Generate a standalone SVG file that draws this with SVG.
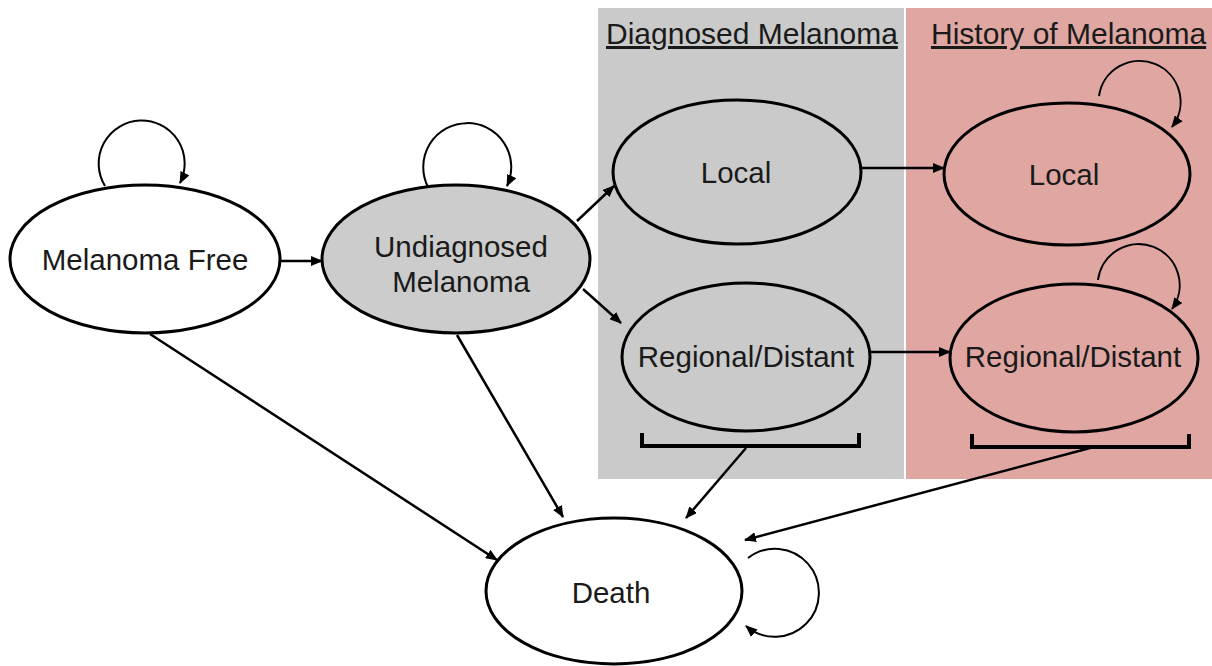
<svg xmlns="http://www.w3.org/2000/svg" width="1212" height="666" viewBox="0 0 1212 666">
<defs>
<style>
.node{stroke:#000;stroke-width:3}
.lbl{font-family:"Liberation Sans",Arial,sans-serif;font-size:29.5px;fill:#1a1a1a;text-anchor:middle}
.hdr{font-family:"Liberation Sans",Arial,sans-serif;font-size:30px;fill:#1a1a1a;text-decoration:underline}
.arr{stroke:#000;stroke-width:2.5;fill:none;marker-end:url(#ah)}
.loop{stroke:#000;stroke-width:2;fill:none;marker-end:url(#ah)}
.brk{stroke:#000;stroke-width:4;fill:none}
</style>
<marker id="ah" viewBox="0 0 12 10" refX="11" refY="5" markerWidth="12" markerHeight="10" markerUnits="userSpaceOnUse" orient="auto">
<path d="M0,0 L12,5 L0,10 z" fill="#000"/>
</marker>
</defs>
<rect width="1212" height="666" fill="#fff"/>
<g id="panel-diagnosed">
<rect x="598" y="8" width="306" height="471" fill="#cacaca"/>
<text class="hdr" x="606" y="44">Diagnosed Melanoma</text>
</g>
<g id="panel-history">
<rect x="906" y="8" width="306" height="471" fill="#e0a7a2"/>
<text class="hdr" x="931" y="44">History of Melanoma</text>
</g>
<g id="melanoma-free">
<ellipse class="node" cx="145" cy="259" rx="135" ry="74" fill="#fff"/>
<text class="lbl" x="145" y="270">Melanoma Free</text>
</g>
<g id="undiagnosed">
<ellipse class="node" cx="456" cy="259" rx="134" ry="74" fill="#cccccc"/>
<text class="lbl" x="461" y="257">Undiagnosed</text>
<text class="lbl" x="461" y="292">Melanoma</text>
</g>
<g id="diag-local">
<ellipse class="node" cx="737" cy="172" rx="124" ry="72" fill="#cacaca"/>
<text class="lbl" x="736" y="183">Local</text>
</g>
<g id="diag-regional">
<ellipse class="node" cx="746" cy="357" rx="124" ry="74" fill="#cacaca"/>
<text class="lbl" x="746" y="367">Regional/Distant</text>
</g>
<g id="hist-local">
<ellipse class="node" cx="1067" cy="174" rx="123" ry="71" fill="#e0a7a2"/>
<text class="lbl" x="1064" y="185">Local</text>
</g>
<g id="hist-regional">
<ellipse class="node" cx="1074" cy="358" rx="124" ry="74" fill="#e0a7a2"/>
<text class="lbl" x="1073" y="367">Regional/Distant</text>
</g>
<g id="death">
<ellipse class="node" cx="614" cy="591" rx="128" ry="73" fill="#fff"/>
<text class="lbl" x="611" y="603">Death</text>
</g>
<g id="connectors">
<path class="loop" d="M105,186 A43,43 0 1 1 180,183"/>
<path class="loop" d="M428,187 A44,44 0 1 1 507,186"/>
<path class="loop" d="M1099,96 A41,41 0 1 1 1172,127"/>
<path class="loop" d="M1098,280 A41,41 0 1 1 1172,309"/>
<path class="loop" d="M748,558 A44,44 0 1 1 746,626"/>
<line class="arr" x1="280" y1="261" x2="322" y2="261"/>
<line class="arr" x1="577" y1="221" x2="614" y2="186"/>
<line class="arr" x1="583" y1="289" x2="621" y2="323"/>
<line class="arr" x1="860" y1="168" x2="944" y2="168"/>
<line class="arr" x1="871" y1="352" x2="950" y2="352"/>
<line class="arr" x1="150" y1="334" x2="497" y2="560"/>
<line class="arr" x1="457" y1="335" x2="563" y2="517"/>
<line class="arr" x1="746" y1="448" x2="686" y2="518"/>
<line class="arr" x1="1090" y1="448" x2="745" y2="540"/>
<path class="brk" d="M642,433 V446 H859 V433"/>
<path class="brk" d="M972,434 V447 H1189 V434"/>
</g>
</svg>
